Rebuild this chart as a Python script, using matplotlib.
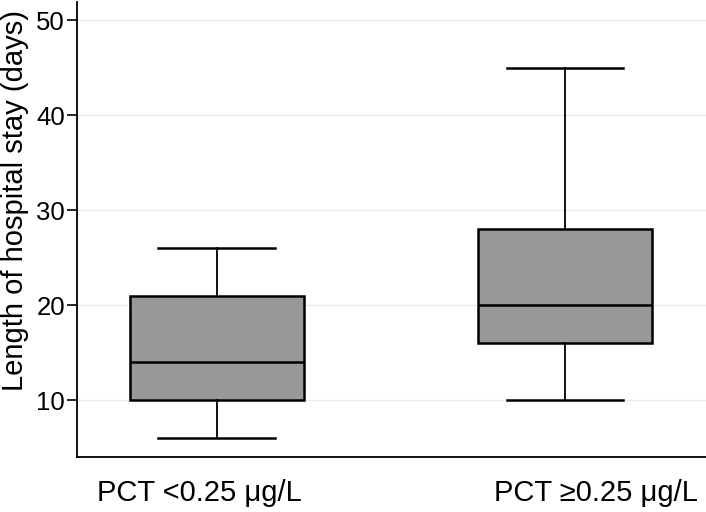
import matplotlib.pyplot as plt

plt.rcParams['font.family'] = ['Liberation Sans', 'DejaVu Sans']

labels = ['PCT <0.25 μg/L', 'PCT ≥0.25 μg/L']
whislo = [6, 10]
q1 = [10, 16]
med = [14, 20]
q3 = [21, 28]
whishi = [26, 45]

stats = []
for i in range(len(labels)):
    stats.append({'label': labels[i], 'whislo': whislo[i], 'q1': q1[i],
                  'med': med[i], 'q3': q3[i], 'whishi': whishi[i], 'fliers': []})

fig = plt.figure(figsize=(7.06, 5.12), dpi=100)
ax = fig.add_axes([0.109, 0.107, 0.891, 0.889])

ax.bxp(stats, positions=[1, 2], widths=0.5, patch_artist=True, showfliers=False,
       boxprops=dict(facecolor='#989898', edgecolor='black', linewidth=1.8),
       medianprops=dict(color='black', linewidth=1.8),
       whiskerprops=dict(color='black', linewidth=1.3),
       capprops=dict(color='black', linewidth=1.8),
       capwidths=0.336)

# the category labels sit a little off the box centres in the original
ax.set_xticks([0.95, 2.088], labels)
ax.set_xlim(0.598, 2.405)
ax.set_ylim(4.0, 51.9)
ax.set_yticks([10, 20, 30, 40, 50])
ax.yaxis.grid(True, color='#ececec', linewidth=1)
ax.set_axisbelow(True)
ax.spines['top'].set_visible(False)
ax.spines['right'].set_visible(False)
ax.spines['left'].set_linewidth(1.3)
ax.spines['bottom'].set_linewidth(1.3)
ax.tick_params(axis='y', labelsize=18.5, length=7, width=1.2, pad=1.5)
ax.tick_params(axis='x', labelsize=21, length=0, pad=16)
ax.set_ylabel('Length of hospital stay (days)', fontsize=21)
ax.yaxis.set_label_coords(-0.076, 0.564)

fig.savefig('out.png', dpi=100)
